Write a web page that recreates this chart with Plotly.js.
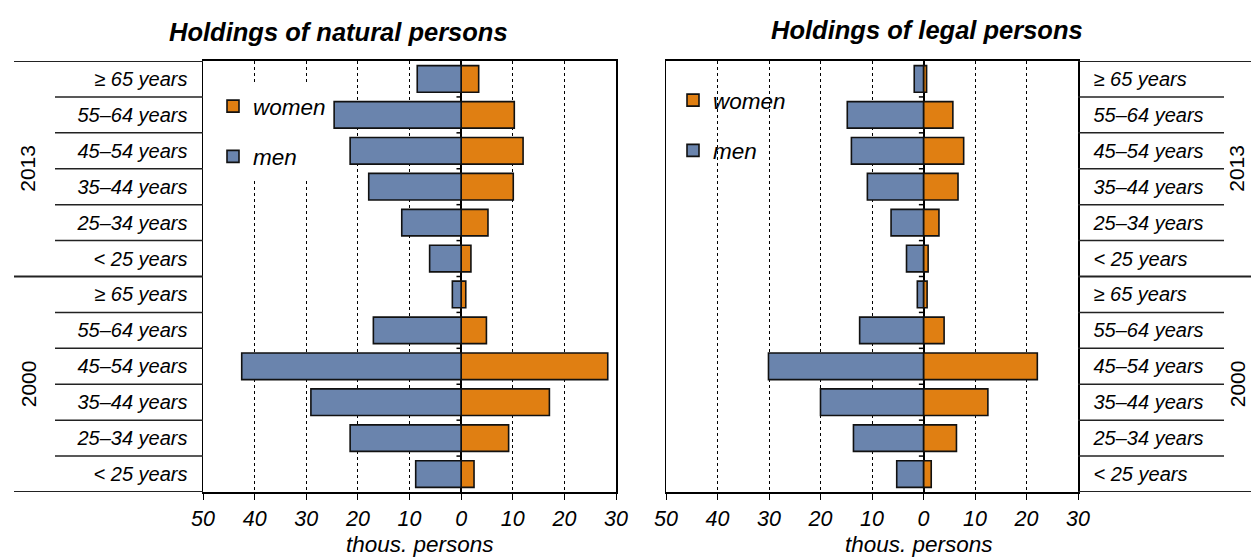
<!DOCTYPE html>
<html>
<head>
<meta charset="utf-8">
<script src="https://cdn.plot.ly/plotly-3.0.1.min.js"></script>
<style>html,body{margin:0;padding:0;background:#fff;}#chart{width:1251px;height:558px;}</style>
</head>
<body>
<div id="chart"></div>
<script>
// ---- data (thousand persons) ----
const ageGroups = ['< 25 years', '25–34 years', '35–44 years', '45–54 years', '55–64 years', '≥ 65 years'];
const years = ['2000', '2013'];
const xTickVals = [-50, -40, -30, -20, -10, 0, 10, 20, 30];
const xTickText = ['50', '40', '30', '20', '10', '0', '10', '20', '30'];

const naturalMen2000   = [8.8, 21.5, 29.1, 42.5, 17.0, 1.7];
const naturalWomen2000 = [2.5, 9.2, 17.1, 28.4, 4.9, 0.9];
const naturalMen2013   = [6.1, 11.5, 17.9, 21.5, 24.6, 8.5];
const naturalWomen2013 = [1.9, 5.2, 10.1, 12.0, 10.3, 3.4];

const legalMen2000   = [5.2, 13.6, 20.0, 30.1, 12.4, 1.2];
const legalWomen2000 = [1.5, 6.4, 12.5, 22.1, 4.0, 0.7];
const legalMen2013   = [3.3, 6.3, 10.9, 14.0, 14.8, 1.8];
const legalWomen2013 = [0.9, 3.0, 6.7, 7.8, 5.7, 0.6];

// ---- helpers ----
const rowLabels = ageGroups.concat(ageGroups);
const rowPos = rowLabels.map((_, i) => i);
const nRows = rowLabels.length;

const BLUE = '#6A84AD', ORANGE = '#E07F12';
const FONT = 'Liberation Sans, Arial, sans-serif';

function bars2(men2000, women2000, men2013, women2013, xa, ya, leg) {
  const women = women2000.concat(women2013);
  const men = men2000.concat(men2013).map(v => -v);
  return [
    {type: 'bar', orientation: 'h', name: 'women', legend: leg, legendgroup: 'w',
     x: women, y: rowPos, xaxis: xa, yaxis: ya, width: 0.74,
     marker: {color: ORANGE, line: {color: '#111', width: 1.6}}},
    {type: 'bar', orientation: 'h', name: 'men', legend: leg, legendgroup: 'm',
     x: men, y: rowPos, xaxis: xa, yaxis: ya, width: 0.74,
     marker: {color: BLUE, line: {color: '#111', width: 1.6}}}
  ];
}

const data = []
  .concat(bars2(naturalMen2000, naturalWomen2000, naturalMen2013, naturalWomen2013, 'x', 'y', 'legend'))
  .concat(bars2(legalMen2000, legalWomen2000, legalMen2013, legalWomen2013, 'x2', 'y2', 'legend2'));

const W = 1251, H = 558;
const L1 = 203 / W, R1 = 616 / W, L2 = 666 / W, R2 = 1078 / W;
const YB = 1 - 492 / H, YT = 1 - 61 / H;

const tickFont = {family: FONT, size: 20, color: '#000', style: 'italic'};

function xaxis(domain, anchor) {
  return {domain: domain, anchor: anchor, range: [-50, 30], tickvals: xTickVals, ticktext: xTickText,
    tickfont: {family: FONT, size: 21.5, color: '#000', style: 'italic'},
    ticks: 'outside', ticklen: 6, tickcolor: '#000', tickwidth: 1,
    showline: true, linecolor: '#000', linewidth: 1.8, mirror: true,
    showgrid: true, gridcolor: '#000', gridwidth: 1, griddash: 'dot',
    zeroline: true, zerolinecolor: '#000', zerolinewidth: 2, fixedrange: true};
}
function yaxis(side, anchor) {
  return {domain: [YB, YT], anchor: anchor, side: side, range: [-0.5, nRows - 0.5],
    tickvals: rowPos, ticktext: rowLabels, tickfont: tickFont, ticks: '', ticklabelstandoff: 10,
    showline: true, linecolor: '#000', linewidth: 1.5, mirror: true, showgrid: false, zeroline: false, fixedrange: true};
}

const shapes = [];
// row separators in label areas and small ticks on the zero line
for (let k = 0; k <= nRows; k++) {
  const yb = k - 0.5;
  const full = (k === 0 || k === nRows || k === 6);
  shapes.push({type: 'line', xref: 'paper', yref: 'y', x0: full ? 14 / W : 55 / W, x1: L1, y0: yb, y1: yb,
    line: {color: '#222', width: full ? 2 : 1.5}});
  shapes.push({type: 'line', xref: 'paper', yref: 'y2', x0: R2, x1: full ? 1 : 1224 / W, y0: yb, y1: yb,
    line: {color: '#222', width: full ? 2 : 1.5}});
  if (k > 0 && k < nRows) {
    shapes.push({type: 'line', xref: 'x', yref: 'y', x0: -0.9, x1: 0, y0: yb, y1: yb, line: {color: '#000', width: 1.5}});
    shapes.push({type: 'line', xref: 'x2', yref: 'y2', x0: -0.9, x1: 0, y0: yb, y1: yb, line: {color: '#000', width: 1.5}});
  }
}

const groupFont = {family: FONT, size: 21, color: '#000'};
const titleFont = {family: FONT, size: 25.5, color: '#000', weight: 'bold', style: 'italic'};
const axTitleFont = {family: FONT, size: 22.5, color: '#000', style: 'italic'};
const annotations = [
  {text: 'Holdings of natural persons', xref: 'paper', yref: 'paper', x: 338 / W, y: 1 - 32 / H, showarrow: false,
   font: titleFont, xanchor: 'center', yanchor: 'middle'},
  {text: 'Holdings of legal persons', xref: 'paper', yref: 'paper', x: 927 / W, y: 1 - 30 / H, showarrow: false,
   font: titleFont, xanchor: 'center', yanchor: 'middle'},
  {text: 'thous. persons', xref: 'paper', yref: 'paper', x: 420 / W, y: 1 - 544 / H, showarrow: false,
   font: axTitleFont, xanchor: 'center', yanchor: 'middle'},
  {text: 'thous. persons', xref: 'paper', yref: 'paper', x: 919 / W, y: 1 - 544 / H, showarrow: false,
   font: axTitleFont, xanchor: 'center', yanchor: 'middle'},
  {text: years[1], xref: 'paper', yref: 'y', x: 28 / W, y: 8.5, textangle: -90, showarrow: false, font: groupFont, xanchor: 'center', yanchor: 'middle'},
  {text: years[0], xref: 'paper', yref: 'y', x: 28 / W, y: 2.5, textangle: -90, showarrow: false, font: groupFont, xanchor: 'center', yanchor: 'middle'},
  {text: years[1], xref: 'paper', yref: 'y2', x: 1237 / W, y: 8.5, textangle: -90, showarrow: false, font: groupFont, xanchor: 'center', yanchor: 'middle'},
  {text: years[0], xref: 'paper', yref: 'y2', x: 1237 / W, y: 2.5, textangle: -90, showarrow: false, font: groupFont, xanchor: 'center', yanchor: 'middle'}
];

const legendFont = {family: FONT, size: 22.5, color: '#000', style: 'italic'};
const layout = {
  width: W, height: H, margin: {l: 0, r: 0, t: 0, b: 0},
  paper_bgcolor: '#fff', plot_bgcolor: '#fff',
  barmode: 'relative',
  xaxis: xaxis([L1, R1], 'y'),
  yaxis: yaxis('left', 'x'),
  xaxis2: xaxis([L2, R2], 'y2'),
  yaxis2: yaxis('right', 'x2'),
  legend: {x: 213 / W, y: 1 - 85 / H, xanchor: 'left', yanchor: 'top', bgcolor: '#fff', font: legendFont,
    tracegroupgap: 18, traceorder: 'grouped', itemwidth: 30},
  legend2: {x: 673 / W, y: 1 - 79 / H, xanchor: 'left', yanchor: 'top', bgcolor: 'rgba(0,0,0,0)', font: legendFont,
    tracegroupgap: 18, traceorder: 'grouped', itemwidth: 30},
  shapes: shapes,
  annotations: annotations,
  showlegend: true
};

Plotly.newPlot('chart', data, layout, {displayModeBar: false, staticPlot: true});
</script>
</body>
</html>
